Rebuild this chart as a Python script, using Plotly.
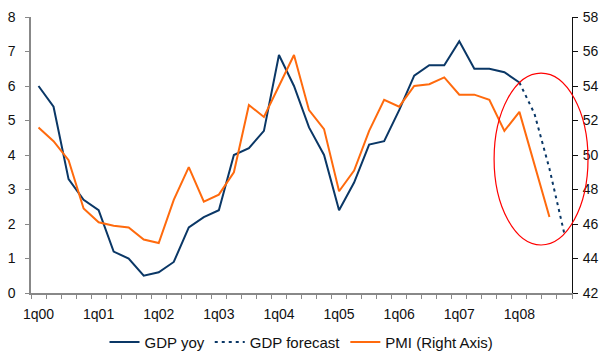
import plotly.graph_objects as go

years = ["00", "01", "02", "03", "04", "05", "06", "07", "08"]
quarters = [f"{q}q{y}" for y in years for q in range(1, 5)]
tick_text = [q if q.startswith("1q") else "" for q in quarters]

gdp_yoy = [6.0, 5.4, 3.3, 2.7, 2.4, 1.2, 1.0, 0.5, 0.6, 0.9, 1.9, 2.2,
           2.4, 4.0, 4.2, 4.7, 6.9, 6.0, 4.8, 4.0, 2.4, 3.2, 4.3, 4.4,
           5.3, 6.3, 6.6, 6.6, 7.3, 6.5, 6.5, 6.4, 6.1, None, None, None]
gdp_forecast = [None] * 32 + [6.1, 5.2, 3.6, 1.7]
pmi = [51.6, 50.8, 49.7, 46.9, 46.1, 45.9, 45.8, 45.1, 44.9, 47.4, 49.3, 47.3,
       47.7, 49.0, 52.9, 52.2, 54.0, 55.8, 52.6, 51.5, 47.9, 49.1, 51.4, 53.2,
       52.8, 54.0, 54.1, 54.5, 53.5, 53.5, 53.2, 51.4, 52.5, 49.4, 46.4, None]

NAVY = "#0a3766"
ORANGE = "#ff6a0d"
FONT = "Liberation Sans, Arial, sans-serif"

fig = go.Figure()
fig.add_trace(go.Scatter(x=quarters, y=gdp_yoy, name="GDP yoy", mode="lines",
                         line=dict(color=NAVY, width=2)))
fig.add_trace(go.Scatter(x=quarters, y=gdp_forecast, name="GDP forecast", mode="lines",
                         line=dict(color=NAVY, width=2, dash="3px,4px")))
fig.add_trace(go.Scatter(x=quarters, y=pmi, name="PMI (Right Axis)", mode="lines",
                         line=dict(color=ORANGE, width=2), yaxis="y2"))

fig.update_layout(
    width=600, height=352,
    margin=dict(l=31, r=28, t=17, b=59, autoexpand=False),
    paper_bgcolor="white", plot_bgcolor="white",
    font=dict(family=FONT, size=14, color="#111111"),
    showlegend=True,
    legend=dict(orientation="h", x=0.5, xanchor="center", y=-0.178, yanchor="middle",
                font=dict(size=15), itemwidth=30, tracegroupgap=0,
                bgcolor="rgba(0,0,0,0)"),
    xaxis=dict(type="category", range=[-0.5, 35.5], tickmode="array",
               tickvals=quarters, ticktext=tick_text, tickson="boundaries",
               ticks="outside", ticklen=4, tickcolor="#888888",
               ticklabelstandoff=7, automargin=False,
               showline=True, linecolor="#888888", linewidth=1.5,
               showgrid=False, zeroline=False, tickangle=0),
    yaxis=dict(range=[0, 8], dtick=1, ticks="outside", ticklen=4,
               tickcolor="#888888", showline=True, linecolor="#888888",
               ticklabelstandoff=7, automargin=False,
               linewidth=1.5, showgrid=False, zeroline=False),
    yaxis2=dict(range=[42, 58], dtick=2, overlaying="y", side="right",
                ticks="outside", ticklen=5, tickcolor="#111111",
                ticklabelstandoff=2, automargin=False,
                showline=True, linecolor="#111111", linewidth=1,
                showgrid=False, zeroline=False),
    shapes=[dict(type="circle", xref="paper", yref="paper",
                 x0=0.856, x1=1.0296, y0=0.174, y1=0.797,
                 line=dict(color="#ff0000", width=1.2), layer="above")],
)

fig.write_html("out.html")
